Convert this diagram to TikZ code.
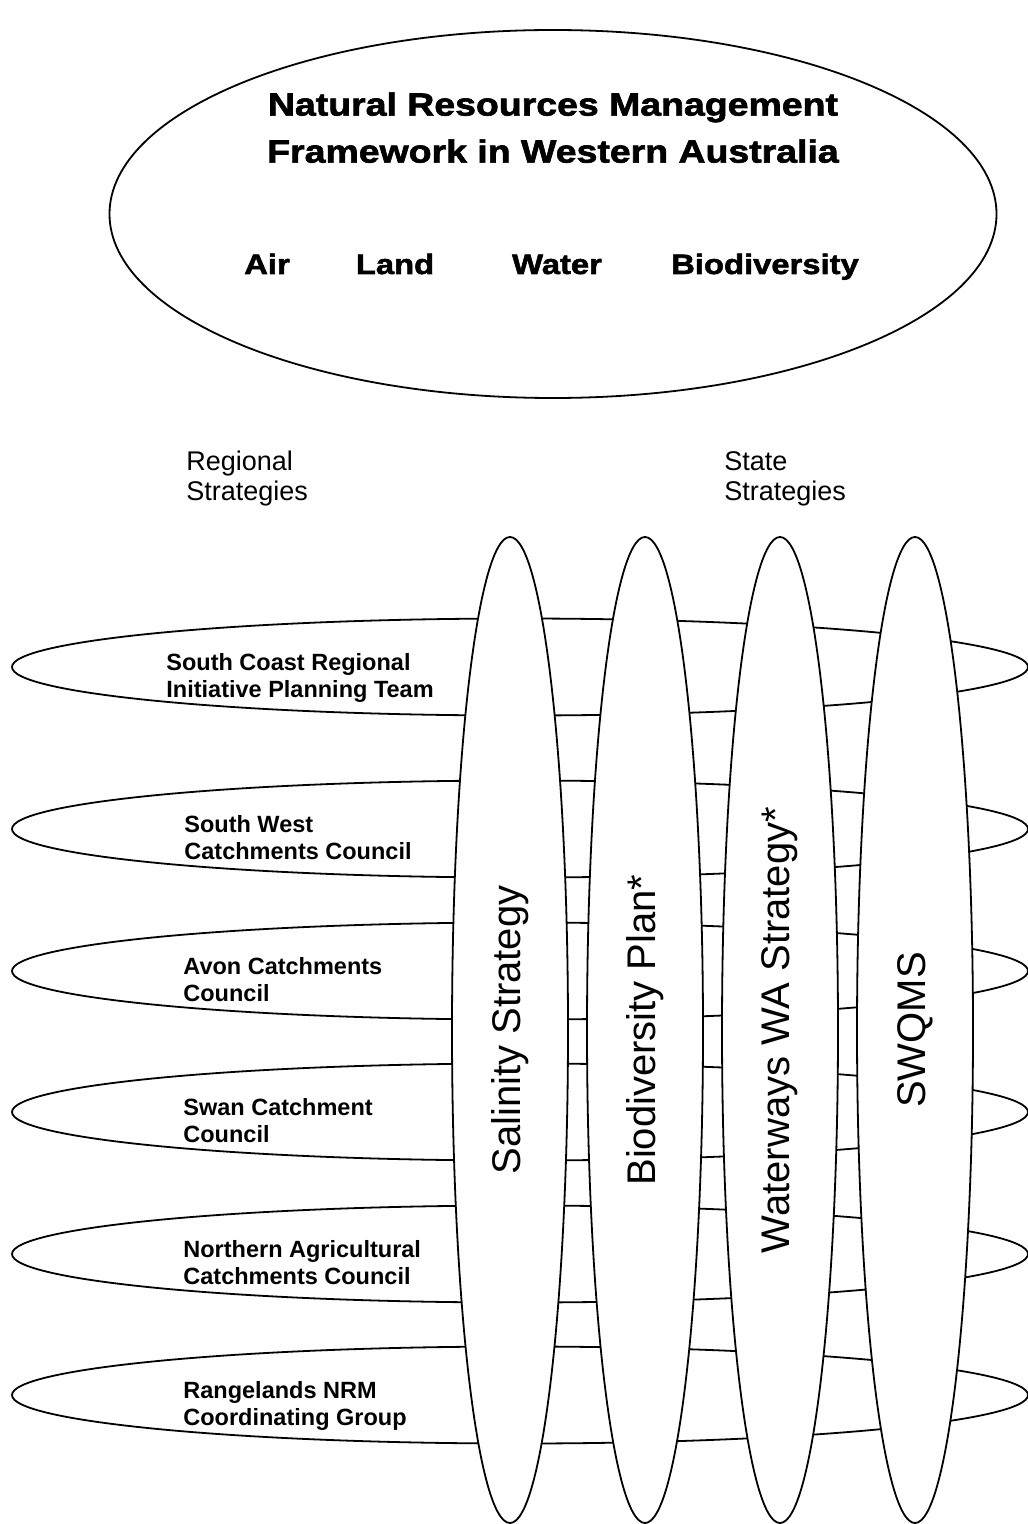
\documentclass[tikz,border=0pt]{standalone}
\usepackage{fontspec}
\setmainfont{Liberation Sans}
\newfontfamily\heavyfont[BoldFeatures={FakeBold=2,FakeStretch=1.17}]{Liberation Sans}
\usetikzlibrary{shapes.geometric}
\tikzset{
    nrmtop/.style={ellipse, draw, line width=0.9pt, minimum width=443.5pt, minimum height=184pt, inner sep=0pt},
    nrmregion/.style={ellipse, draw, line width=0.9pt, fill=white, minimum width=508pt, minimum height=48.5pt, inner sep=0pt},
    nrmstate/.style={ellipse, draw, line width=0.9pt, fill=white, rotate=90, minimum width=493pt, minimum height=58pt, inner sep=0pt, font=\fontsize{20}{24}\selectfont},
    nrmlabel/.style={anchor=north west, align=left, inner sep=0pt, font=\bfseries\fontsize{11.75}{13.5}\selectfont},
    nrmhead/.style={anchor=north west, align=left, inner sep=0pt, font=\fontsize{13.5}{15}\selectfont},
    nrmtitle/.style={anchor=north, align=center, inner sep=0pt, font=\heavyfont\bfseries\fontsize{16}{23.5}\selectfont},
    nrmword/.style={anchor=base, inner sep=0pt, font=\heavyfont\bfseries\fontsize{14}{16}\selectfont}
}

\begin{document}
\begin{tikzpicture}[x=0.5pt, y=-0.5pt]
        \useasboundingbox (0,0) rectangle (1027,1524);

        % framework
        \node[nrmtop] (nrm) at (553,214) {};
        \node[nrmtitle] (title) at (553,92) {Natural Resources Management\\Framework in Western Australia};
        \node[nrmword] (air) at (267,274) {Air};
        \node[nrmword] (land) at (395,274) {Land};
        \node[nrmword] (water) at (557,274) {Water};
        \node[nrmword] (biodiv) at (765,274) {Biodiversity};

        \node[nrmhead] (regional) at (186,451) {Regional\\Strategies};
        \node[nrmhead] (state) at (724,451) {State\\Strategies};

        % regional strategies
        \node[nrmregion] (scrip) at (520,667) {};
        \node[nrmregion] (swcc) at (520,829) {};
        \node[nrmregion] (acc) at (520,971) {};
        \node[nrmregion] (scc) at (520,1112) {};
        \node[nrmregion] (nacc) at (520,1254) {};
        \node[nrmregion] (rcg) at (520,1395) {};

        % state strategies
        \node[nrmstate] (salinity) at (510,1030) {Salinity Strategy};
        \node[nrmstate] (bioplan) at (645,1030) {Biodiversity Plan*};
        \node[nrmstate] (waterways) at (780,1030) {Waterways WA Strategy*};
        \node[nrmstate] (swqms) at (915,1030) {SWQMS};

        \node[nrmlabel] (scrip-t) at (166,653) {South Coast Regional\\Initiative Planning Team};
        \node[nrmlabel] (swcc-t) at (184,815) {South West\\Catchments Council};
        \node[nrmlabel] (acc-t) at (183,957) {Avon Catchments\\Council};
        \node[nrmlabel] (scc-t) at (183,1098) {Swan Catchment\\Council};
        \node[nrmlabel] (nacc-t) at (183,1240) {Northern Agricultural\\Catchments Council};
        \node[nrmlabel] (rcg-t) at (183,1381) {Rangelands NRM\\Coordinating Group};
\end{tikzpicture}
\end{document}
